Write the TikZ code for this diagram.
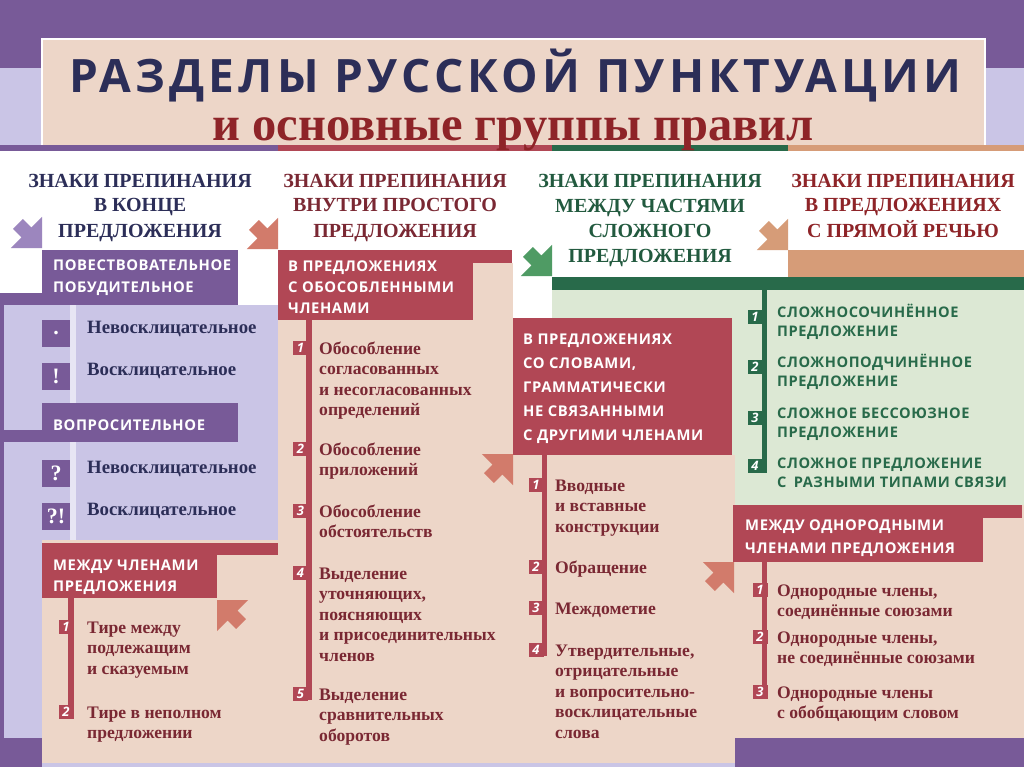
\documentclass[tikz,border=0pt]{standalone}
\usepackage{fontspec}
\setmainfont{Liberation Serif}
\setsansfont{Open Sans}
\newfontfamily\titulofont{Open Sans}[LetterSpace=9]
\newfontfamily\cajafont{Open Sans}[LetterSpace=4]
\usetikzlibrary{positioning}
\usepackage{xcolor}
\definecolor{lila}{HTML}{785A98}
\definecolor{lavanda}{HTML}{CAC5E6}
\definecolor{beis}{HTML}{EDD6C8}
\definecolor{grana}{HTML}{B14755}
\definecolor{salmon}{HTML}{D27B6B}
\definecolor{verde}{HTML}{286A4A}
\definecolor{verdeclaro}{HTML}{DCE8D4}
\definecolor{verdeflecha}{HTML}{4F9B64}
\definecolor{canela}{HTML}{D69C78}
\definecolor{marino}{HTML}{2C2E58}
\definecolor{vino}{HTML}{7A2833}
\definecolor{rojotit}{HTML}{8E2428}
\definecolor{lilaflecha}{HTML}{9C86BE}

% flecha en bloque: color, punta, angulo
\newcommand{\flecha}[3]{%
  \fill[#1, shift={#2}, rotate=#3] (0,0) -- (-22,22) -- (-22,7) -- (-34,7)
    -- (-34,-7) -- (-22,-7) -- (-22,-22) -- cycle;}

\begin{document}
\begin{tikzpicture}[x=1pt, y=-1pt,
      % los textos de varias lineas se anclan en la linea base de la ultima linea
      cab/.style={font=\fontsize{20}{25}\selectfont\bfseries, align=center, inner sep=0, anchor=base},
      eti/.style={font=\cajafont\bfseries\fontsize{14.8}{22}\selectfont, text=white, align=left,
                  inner sep=0, anchor=base west},
      itm/.style={font=\fontsize{17.6}{20.5}\selectfont\bfseries, text=vino, align=left,
                  inner sep=0, anchor=base west},
      itmgr/.style={itm, font=\fontsize{18.8}{20.5}\selectfont\bfseries, text=marino},
      grn/.style={font=\cajafont\bfseries\fontsize{14.6}{19}\selectfont, text=verde, align=left,
                  inner sep=0, anchor=base west},
      num/.style={fill=grana, text=white, font=\sffamily\bfseries\itshape\fontsize{13}{13}\selectfont,
                  minimum width=15pt, minimum height=14pt, inner sep=0},
      sig/.style={fill=lila, text=white, font=\fontsize{22}{22}\selectfont\bfseries,
                  minimum width=28pt, minimum height=27pt, inner sep=0}]

    \useasboundingbox (0,0) rectangle (1024,767);
    \fill[white] (0,0) rectangle (1024,767);

    % cabecera
    \fill[lila] (0,0) rectangle (1024,38);
    \fill[lila] (0,38) rectangle (42,68);
    \fill[lavanda] (0,68) rectangle (42,145);
    \fill[lila] (985,38) rectangle (1024,68);
    \fill[lavanda] (985,68) rectangle (1024,145);
    \fill[beis] (42,38) rectangle (985,145);
    \draw[white, line width=1.5pt] (42,145) -- (42,38.8) -- (985,38.8) -- (985,145);
    \fill[lila] (0,145) rectangle (278,151);
    \fill[grana] (278,145) rectangle (552,151);
    \fill[verde] (552,145) rectangle (788,151);
    \fill[canela] (788,145) rectangle (1024,151);

    \node[font=\titulofont\bfseries\fontsize{46}{46}\selectfont, text=marino, anchor=base, inner sep=0]
      (titulo) at (515,93) {РАЗДЕЛЫ РУССКОЙ ПУНКТУАЦИИ};
    \node[font=\fontsize{48.5}{48.5}\selectfont\bfseries, text=rojotit, anchor=base, inner sep=0]
      (subtitulo) at (513,141) {и основные группы правил};

    % fondos de las columnas
    \fill[lavanda] (0,305) rectangle (278,540);
    \fill[lavanda] (0,540) rectangle (42,740);
    \fill[beis] (42,540) rectangle (278,763);
    \fill[lavanda!45!white] (70,305) rectangle (76,403);
    \fill[lavanda!45!white] (70,442) rectangle (76,540);
    \fill[lila] (0,293) rectangle (4,740);
    \fill[beis] (278,263) rectangle (513,763);
    \fill[verdeclaro] (552,290) rectangle (1024,505);
    \fill[verde] (552,277) rectangle (1024,290);
    \fill[canela] (788,250) rectangle (1024,277);
    \fill[beis] (513,455) rectangle (735,763);
    \fill[beis] (735,505) rectangle (1024,740);
    \fill[lila] (0,738) rectangle (42,767);
    \fill[lila] (735,738) rectangle (1024,767);
    \fill[lavanda] (42,763) rectangle (735,767);

    % cajas de apartado
    \fill[lila] (42,250) rectangle (238,305);
    \fill[lila] (0,293) rectangle (42,305);
    \fill[lila] (42,403) rectangle (238,442);
    \fill[lila] (0,430) rectangle (42,442);
    \fill[grana] (42,543) rectangle (217,598);
    \fill[grana] (217,543) rectangle (278,555);
    \fill[grana] (278,250) rectangle (473,320);
    \fill[grana] (473,250) rectangle (512,263);
    \fill[grana] (513,318) rectangle (732,455);
    \fill[grana] (733,505) rectangle (983,562);
    \fill[grana] (983,505) rectangle (1022,518);

    % ejes de las listas
    \fill[grana] (68,598) rectangle (74,718);
    \fill[grana] (306,320) rectangle (312,700);
    \fill[grana] (542,455) rectangle (547,656);
    \fill[verde] (762,290) rectangle (767,473);
    \fill[grana] (762,562) rectangle (767,698);

    % titulos de columna
    \node[cab, text=marino] (cab1) at (140,237) {ЗНАКИ ПРЕПИНАНИЯ\\В КОНЦЕ\\ПРЕДЛОЖЕНИЯ};
    \node[cab, text=vino] (cab2) at (395,237) {ЗНАКИ ПРЕПИНАНИЯ\\ВНУТРИ ПРОСТОГО\\ПРЕДЛОЖЕНИЯ};
    \node[cab, text=verde!85!black] (cab3) at (650,262) {ЗНАКИ ПРЕПИНАНИЯ\\МЕЖДУ ЧАСТЯМИ\\СЛОЖНОГО\\ПРЕДЛОЖЕНИЯ};
    \node[cab, text=rojotit] (cab4) at (903,237) {ЗНАКИ ПРЕПИНАНИЯ\\В ПРЕДЛОЖЕНИЯХ\\С ПРЯМОЙ РЕЧЬЮ};

    % etiquetas blancas
    \node[eti] (povest) at (53,292) {ПОВЕСТВОВАТЕЛЬНОЕ\\ПОБУДИТЕЛЬНОЕ};
    \node[eti] (vopros) at (53,430) {ВОПРОСИТЕЛЬНОЕ};
    \node[eti] (mezhdu1) at (53,591) {МЕЖДУ ЧЛЕНАМИ\\[-1pt]ПРЕДЛОЖЕНИЯ};
    \node[eti] (obosob) at (288,313) {В ПРЕДЛОЖЕНИЯХ\\[-1pt]С ОБОСОБЛЕННЫМИ\\[-1pt]ЧЛЕНАМИ};
    \node[eti] (slova) at (523,440) {В ПРЕДЛОЖЕНИЯХ\\[2pt]СО СЛОВАМИ,\\[2pt]ГРАММАТИЧЕСКИ\\[2pt]НЕ СВЯЗАННЫМИ\\[2pt]С ДРУГИМИ ЧЛЕНАМИ};
    \node[eti] (odnor) at (745,553) {МЕЖДУ ОДНОРОДНЫМИ\\[1pt]ЧЛЕНАМИ ПРЕДЛОЖЕНИЯ};

    % columna 1
    \node[sig] (punto) at (56,333.5) {.};
    \node[sig] (excl) at (56,376.5) {!};
    \node[sig] (preg) at (56,473.5) {?};
    \node[sig] (pregexcl) at (56,516.5) {?!};
    \node[itmgr] (i11) at (87,333) {Невосклицательное};
    \node[itmgr] (i12) at (87,375) {Восклицательное};
    \node[itmgr] (i13) at (87,473) {Невосклицательное};
    \node[itmgr] (i14) at (87,515) {Восклицательное};
    \node[num] (n11) at (66,627) {1};
    \node[num] (n12) at (66,712) {2};
    \node[itm] (i15) at (87,674) {Тире между\\подлежащим\\и сказуемым};
    \node[itm] (i16) at (87,738.5) {Тире в неполном\\предложении};

    % columna 2
    \node[num] (n21) at (300.5,348) {1};
    \node[num] (n22) at (300.5,449) {2};
    \node[num] (n23) at (300.5,511) {3};
    \node[num] (n24) at (300.5,573) {4};
    \node[num] (n25) at (300.5,694) {5};
    \node[itm] (i21) at (319,415.5) {Обособление\\согласованных\\и несогласованных\\определений};
    \node[itm] (i22) at (319,475.5) {Обособление\\приложений};
    \node[itm] (i23) at (319,537.5) {Обособление\\обстоятельств};
    \node[itm] (i24) at (319,661) {Выделение\\уточняющих,\\поясняющих\\и присоединительных\\членов};
    \node[itm] (i25) at (319,741) {Выделение\\сравнительных\\оборотов};

    % columna 3
    \node[num] (n31) at (536,485) {1};
    \node[num] (n32) at (536,567) {2};
    \node[num] (n33) at (536,608) {3};
    \node[num] (n34) at (536,650) {4};
    \node[itm] (i31) at (555,532) {Вводные\\и вставные\\конструкции};
    \node[itm] (i32) at (555,573) {Обращение};
    \node[itm] (i33) at (555,614) {Междометие};
    \node[itm] (i34) at (555,738) {Утвердительные,\\отрицательные\\и вопросительно-\\восклицательные\\слова};

    % columna 4
    \node[num, fill=verde] (g1n) at (755,316.5) {1};
    \node[num, fill=verde] (g2n) at (755,366.5) {2};
    \node[num, fill=verde] (g3n) at (755,417.5) {3};
    \node[num, fill=verde] (g4n) at (755,466) {4};
    \node[grn] (g1) at (777,336) {СЛОЖНОСОЧИНЁННОЕ\\ПРЕДЛОЖЕНИЕ};
    \node[grn] (g2) at (777,386) {СЛОЖНОПОДЧИНЁННОЕ\\ПРЕДЛОЖЕНИЕ};
    \node[grn] (g3) at (777,437) {СЛОЖНОЕ БЕССОЮЗНОЕ\\ПРЕДЛОЖЕНИЕ};
    \node[grn] (g4) at (777,487) {СЛОЖНОЕ ПРЕДЛОЖЕНИЕ\\С\enspace РАЗНЫМИ ТИПАМИ СВЯЗИ};
    \node[num] (n41) at (760,590) {1};
    \node[num] (n42) at (760,637) {2};
    \node[num] (n43) at (760,692) {3};
    \node[itm] (i41) at (777,616.5) {Однородные члены,\\соединённые союзами};
    \node[itm] (i42) at (777,663.5) {Однородные члены,\\не соединённые союзами};
    \node[itm] (i43) at (777,718.5) {Однородные члены\\с обобщающим словом};

    % flechas
    \flecha{lilaflecha}{(42,248)}{-45}
    \flecha{salmon}{(278,249)}{-45}
    \flecha{verdeflecha}{(552,276)}{-45}
    \flecha{canela}{(788,250)}{-45}
    \flecha{salmon}{(217,600)}{135}
    \flecha{salmon}{(513,454)}{45}
    \flecha{salmon}{(734,562)}{45}
  \end{tikzpicture}
\end{document}
